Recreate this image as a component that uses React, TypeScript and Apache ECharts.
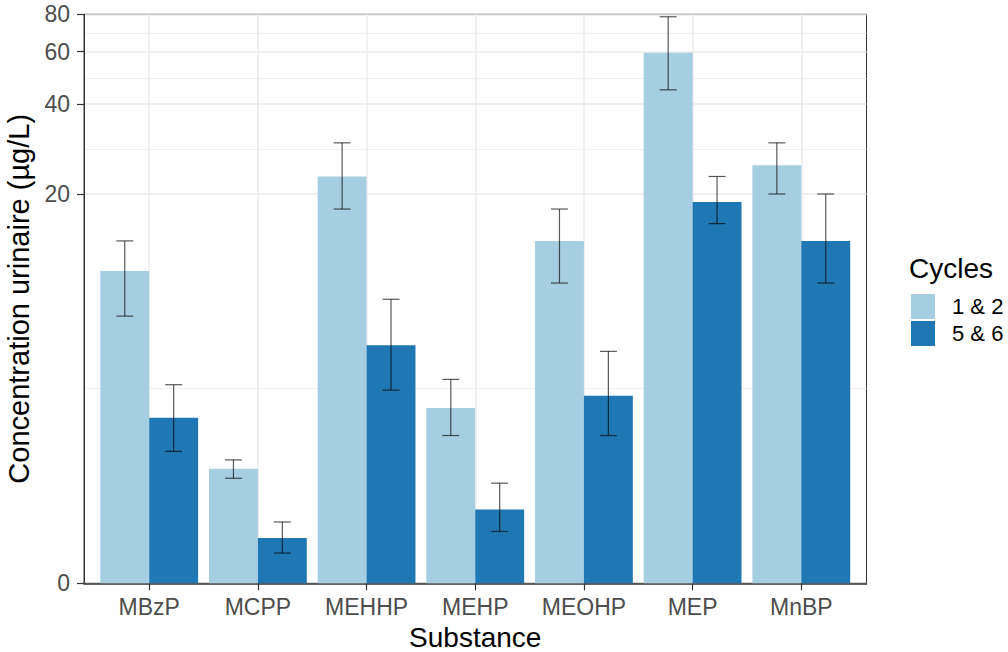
import React, { useEffect, useRef } from "react";
import * as echarts from "echarts";

const categories = ["MBzP", "MCPP", "MEHHP", "MEHP", "MEOHP", "MEP", "MnBP"];
const cycleNames = ["1 & 2", "5 & 6"];
const cycle12Mean = [11.0, 2.0, 22.9, 3.6, 13.9, 59.5, 25.0];
const cycle12Low = [7.7, 1.8, 17.8, 2.8, 10.0, 44.7, 20.0];
const cycle12High = [13.9, 2.2, 29.7, 4.6, 17.8, 78.5, 29.7];
const cycle56Mean = [3.3, 0.71, 6.1, 1.2, 4.0, 18.8, 13.9];
const cycle56Low = [2.4, 0.47, 4.2, 0.82, 2.8, 15.9, 10.0];
const cycle56High = [4.4, 0.98, 8.8, 1.7, 5.8, 22.9, 20.0];
const yTicks = [0, 20, 40, 60, 80];
const colors = ["#A6CEE3", "#1F78B4"];

// pseudo-log transform (sigma = 1), as in ggplot's pseudo_log_trans
const tr = (v: number) => Math.asinh(v / 2);
const inv = (t: number) => 2 * Math.sinh(t);

const FONT = "'Liberation Sans', Arial, sans-serif";

export default function App() {
  const ref = useRef<HTMLDivElement>(null);
  useEffect(() => {
    document.body.style.margin = "0";
    const chart = echarts.init(ref.current!, null, { renderer: "svg" });
    const majorT = yTicks.map(tr);
    const minorT: number[] = [];
    for (let i = 0; i < majorT.length - 1; i++) minorT.push((majorT[i] + majorT[i + 1]) / 2);
    const xPos = categories.map((_, i) => i + 1);

    const makeSeries = (idx: number, mean: number[], lo: number[], hi: number[]) => ({
      type: "custom",
      name: cycleNames[idx],
      itemStyle: { color: colors[idx] },
      encode: { x: 0, y: 1 },
      data: mean.map((m, i) => [xPos[i], tr(m), tr(lo[i]), tr(hi[i])]),
      renderItem: (params: any, api: any) => {
        const x = api.value(0);
        const offset = idx === 0 ? -0.45 : 0;
        const x0 = x + offset;
        const x1 = x0 + 0.45;
        const xc = x0 + 0.225;
        const pTop = api.coord([x0, api.value(1)]);
        const pBase = api.coord([x1, 0]);
        const eLo = api.coord([xc, api.value(2)]);
        const eHi = api.coord([xc, api.value(3)]);
        const capL = api.coord([xc - 0.078, 0])[0];
        const capR = api.coord([xc + 0.078, 0])[0];
        const es = { stroke: "rgba(0,0,0,0.65)", lineWidth: 1.2 };
        return {
          type: "group",
          children: [
            {
              type: "rect",
              shape: { x: pTop[0], y: pTop[1], width: pBase[0] - pTop[0], height: pBase[1] - pTop[1] },
              style: { fill: colors[idx] },
            },
            { type: "line", shape: { x1: eLo[0], y1: eLo[1], x2: eHi[0], y2: eHi[1] }, style: es },
            { type: "line", shape: { x1: capL, y1: eLo[1], x2: capR, y2: eLo[1] }, style: es },
            { type: "line", shape: { x1: capL, y1: eHi[1], x2: capR, y2: eHi[1] }, style: es },
          ],
        };
      },
    });

    chart.setOption({
      animation: false,
      backgroundColor: "#ffffff",
      textStyle: { fontFamily: FONT },
      title: {
        text: "Cycles",
        left: 909,
        top: 254,
        padding: 0,
        textStyle: { fontSize: 28, fontWeight: "normal", color: "#000", fontFamily: FONT },
      },
      legend: {
        orient: "vertical",
        left: 911,
        top: 294,
        itemWidth: 24,
        itemHeight: 25,
        itemGap: 2,
        icon: "rect",
        selectedMode: false,
        padding: 0,
        data: cycleNames,
        textStyle: { fontSize: 22, color: "#000", fontFamily: FONT, padding: [0, 0, 0, 12] },
      },
      grid: {
        left: 84,
        right: 141.5,
        top: 14.3,
        bottom: 68.7,
        show: true,
        borderColor: "#333",
        borderWidth: 1,
        containLabel: false,
        outerBoundsMode: "none",
      },
      xAxis: {
        type: "value",
        min: 0.4,
        max: 7.6,
        name: "Substance",
        nameLocation: "middle",
        nameGap: 36,
        nameTextStyle: { fontSize: 28, lineHeight: 24, color: "#000", fontFamily: FONT },
        axisLine: { show: true, lineStyle: { color: "#333", width: 1.5 } },
        axisTick: { show: true, length: 7, customValues: xPos, lineStyle: { color: "#333", width: 1.2 } },
        axisLabel: {
          customValues: xPos,
          margin: 12,
          fontSize: 23,
          color: "#4D4D4D",
          fontFamily: FONT,
          formatter: (v: number) => categories[Math.round(v) - 1] ?? "",
        },
        splitLine: { show: true, lineStyle: { color: "#EBEBEB", width: 1.5 } },
      },
      yAxis: [
        {
          type: "value",
          min: 0,
          max: tr(80),
          name: "Concentration urinaire (µg/L)",
          nameLocation: "middle",
          nameGap: 48,
          nameTextStyle: { fontSize: 29, color: "#000", fontFamily: FONT },
          axisLine: { show: true, lineStyle: { color: "#333", width: 1 } },
          axisTick: { show: true, length: 7, customValues: majorT, lineStyle: { color: "#333", width: 1.2 } },
          axisLabel: {
            customValues: majorT,
            margin: 14,
            fontSize: 23,
            color: "#4D4D4D",
            fontFamily: FONT,
            formatter: (v: number) => String(Math.round(inv(v))),
          },
          splitLine: { show: true, lineStyle: { color: "#EBEBEB", width: 1.5 } },
        },
        {
          type: "value",
          min: 0,
          max: tr(80),
          position: "left",
          axisLine: { show: false },
          axisTick: { show: false, customValues: minorT },
          axisLabel: { show: false, customValues: minorT },
          splitLine: { show: true, lineStyle: { color: "#F0F0F0", width: 1 } },
        },
      ],
      series: [
        makeSeries(0, cycle12Mean, cycle12Low, cycle12High),
        makeSeries(1, cycle56Mean, cycle56Low, cycle56High),
      ],
    });
    return () => chart.dispose();
  }, []);
  return (
    <div
      ref={ref}
      style={{ position: "fixed", left: 0, top: 0, width: 1008, height: 652 }}
    />
  );
}
